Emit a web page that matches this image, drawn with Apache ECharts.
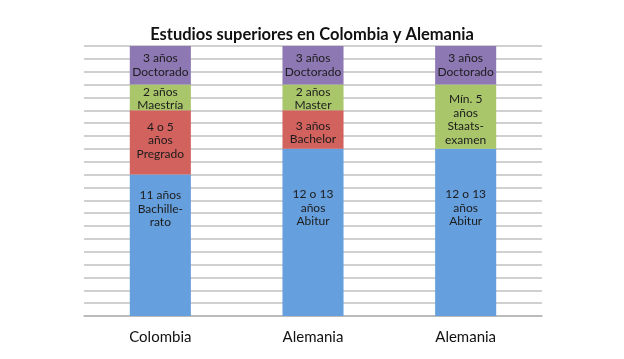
<!DOCTYPE html>
<html>
<head>
<meta charset="utf-8">
<script src="https://cdn.jsdelivr.net/npm/echarts@6/dist/echarts.min.js"></script>
<style>html,body{margin:0;padding:0;background:#fff;}#c{width:624px;height:359px;}</style>
</head>
<body>
<div id="c"></div>
<script>
const categories = ['Colombia', 'Alemania', 'Alemania'];
const baseYears = [11, 13, 13];
const secondYears = [5, 3, 0];
const thirdYears = [2, 2, 5];
const fourthYears = [3, 3, 3];
const baseLabels = ['11 años\nBachille-\nrato', '12 o 13\naños\nAbitur', '12 o 13\naños\nAbitur'];
const secondLabels = ['4 o 5\naños\nPregrado', '3 años\nBachelor', ''];
const thirdLabels = ['2 años\nMaestría', '2 años\nMaster', 'Mín. 5\naños\nStaats-\nexamen'];
const fourthLabels = ['3 años\nDoctorado', '3 años\nDoctorado', '3 años\nDoctorado'];
const yMax = 21;

const FONT = 'Lato';
const labelBase = { show: true, color: '#1c1c1c', fontFamily: FONT, fontSize: 12, lineHeight: 13.5, align: 'center' };

function mkSeries(vals, labels, color, labelOpts) {
  return {
    type: 'bar', stack: 'total', barWidth: '40%',
    itemStyle: { color: color },
    data: vals.map((v, i) => ({
      value: v,
      label: Object.assign({}, labelBase, { formatter: labels[i], show: labels[i] !== '' }, labelOpts ? labelOpts[i] : { position: 'inside' })
    }))
  };
}

const chart = echarts.init(document.getElementById('c'), null, { renderer: 'canvas' });
chart.setOption({
  animation: false,
  title: {
    text: 'Estudios superiores en Colombia y Alemania',
    left: 'center', top: 21,
    textStyle: { fontFamily: FONT, fontWeight: 'bold', fontSize: 16.5, color: '#111' }
  },
  grid: { left: 84, right: 82, top: 46, bottom: 43 },
  xAxis: {
    type: 'category', data: categories,
    axisLine: { lineStyle: { color: '#b4b4b4', width: 1.5 } },
    axisTick: { length: 5, lineStyle: { color: '#b4b4b4' } },
    axisLabel: { color: '#111', fontFamily: FONT, fontSize: 15, margin: 14 }
  },
  yAxis: {
    type: 'value', min: 0, max: yMax, interval: 1,
    axisLabel: { show: false }, axisLine: { show: false }, axisTick: { show: false },
    splitLine: { lineStyle: { color: '#d0d0d0', width: 2 } }
  },
  series: [
    mkSeries(baseYears, baseLabels, '#669fdd', [
      { position: 'insideTop', distance: 14 },
      { position: 'insideTop', distance: 39 },
      { position: 'insideTop', distance: 39 }
    ]),
    mkSeries(secondYears, secondLabels, '#d2625e', [
      { position: 'inside', offset: [0, -2] },
      { position: 'inside', offset: [0, 3] },
      { position: 'inside' }
    ]),
    mkSeries(thirdYears, thirdLabels, '#a9c66b', [
      { position: 'inside', offset: [0, 1] },
      { position: 'inside', offset: [0, 1] },
      { position: 'inside', offset: [0, 3] }
    ]),
    mkSeries(fourthYears, fourthLabels, '#8d78b3')
  ]
});
</script>
</body>
</html>
